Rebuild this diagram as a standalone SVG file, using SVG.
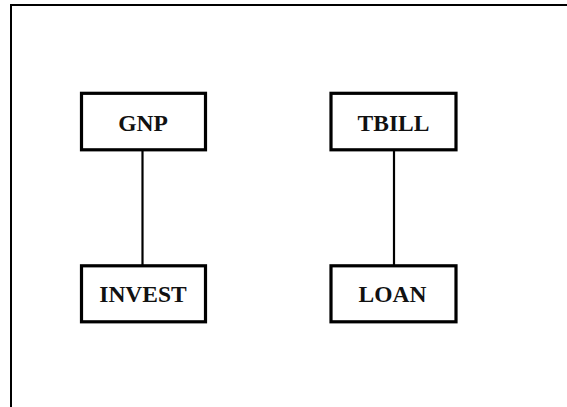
<svg xmlns="http://www.w3.org/2000/svg" width="567" height="407" viewBox="0 0 567 407">
<style>
.box{fill:#fff;stroke:#000;stroke-width:3.2}
.lbl{font-family:"Liberation Serif","Times New Roman",serif;font-weight:bold;font-size:23.5px;text-anchor:middle;fill:#111}
.edge{stroke:#000;stroke-width:2.2;fill:none}
</style>
<rect x="0" y="0" width="567" height="407" fill="#fff"/>
<rect x="11" y="5" width="620" height="460" fill="none" stroke="#000" stroke-width="2"/>
<g id="connectors">
<line class="edge" x1="142.5" y1="150" x2="142.5" y2="266"/>
<line class="edge" x1="394" y1="150" x2="394" y2="266"/>
</g>
<g id="GNP">
<rect class="box" x="81.5" y="93.3" width="124" height="56.5"/>
<text class="lbl" x="143" y="131">GNP</text>
</g>
<g id="TBILL">
<rect class="box" x="331" y="93.3" width="125" height="56.5"/>
<text class="lbl" x="393.5" y="131">TBILL</text>
</g>
<g id="INVEST">
<rect class="box" x="81.5" y="265.8" width="124" height="56"/>
<text class="lbl" x="143" y="301.5">INVEST</text>
</g>
<g id="LOAN">
<rect class="box" x="331" y="265.8" width="125" height="56"/>
<text class="lbl" x="392.5" y="301.5">LOAN</text>
</g>
</svg>
